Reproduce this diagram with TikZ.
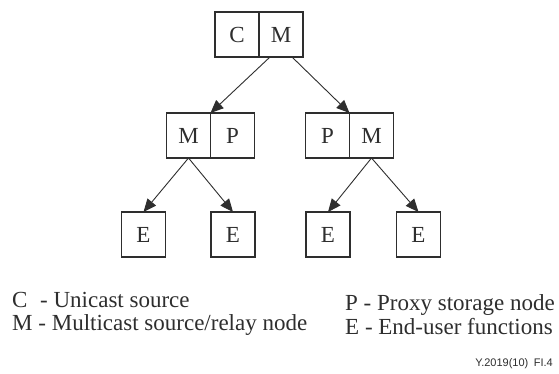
\documentclass[tikz,border=0pt]{standalone}
\usepackage{fontspec}
\setmainfont{Liberation Serif}
\newfontfamily\footfam{Liberation Sans}
\usetikzlibrary{arrows.meta,calc}
\definecolor{ink}{HTML}{2E2E2E}
\tikzset{
  cell/.style={draw=ink, line width=1.2pt, minimum width=44pt, minimum height=45pt,
    inner sep=0pt, outer sep=0pt, text=ink, font=\fontsize{23}{27}\selectfont},
  link/.style={draw=ink, line width=0.9pt, -{Triangle[length=13pt,width=11pt]}},
  legend/.style={anchor=base west, inner sep=0pt, text=ink, font=\fontsize{23}{27}\selectfont},
  footer/.style={anchor=base east, inner sep=0pt, text=ink, font=\footfam\fontsize{11}{13}\selectfont}
}
\begin{document}
\begin{tikzpicture}[x=1pt,y=-1pt]
\useasboundingbox[fill=white] (0,0) rectangle (559,373);
% top
\node[cell] (c0) at (237,34.5) {C};
\node[cell] (m0) at (281,34.5) {M};
% middle
\node[cell] (m1) at (188.5,135.5) {M};
\node[cell] (p1) at (232.5,135.5) {P};
\node[cell] (p2) at (327.5,135.5) {P};
\node[cell] (m2) at (371.5,135.5) {M};
% bottom
\node[cell] (e1) at (143.5,234.5) {E};
\node[cell] (e2) at (233,234.5) {E};
\node[cell] (e3) at (328,234.5) {E};
\node[cell] (e4) at (418.5,234.5) {E};
% connectors
\coordinate (s1) at ($(m0.south west)!0.25!(m0.south east)$);
\coordinate (s2) at ($(m0.south west)!0.75!(m0.south east)$);
\draw[link] (s1) -- (m1.north east);
\draw[link] (s2) -- (p2.north east);
\draw[link] (m1.south) -- (e1.north);
\draw[link] (m1.south) -- (e2.north);
\draw[link] (m2.south) -- (e3.north);
\draw[link] (m2.south) -- (e4.north);
% legend
\node[legend] (l1) at (12,307) {C\hspace{0.55em}- Unicast source};
\node[legend] (l2) at (12,330) {M - Multicast source/relay node};
\node[legend] (l3) at (345,310) {P - Proxy storage node};
\node[legend] (l4) at (345,334) {E - End-user functions};
\node[footer] (ft) at (553,366) {Y.2019(10)\hspace{0.5em}FI.4};
\end{tikzpicture}
\end{document}
